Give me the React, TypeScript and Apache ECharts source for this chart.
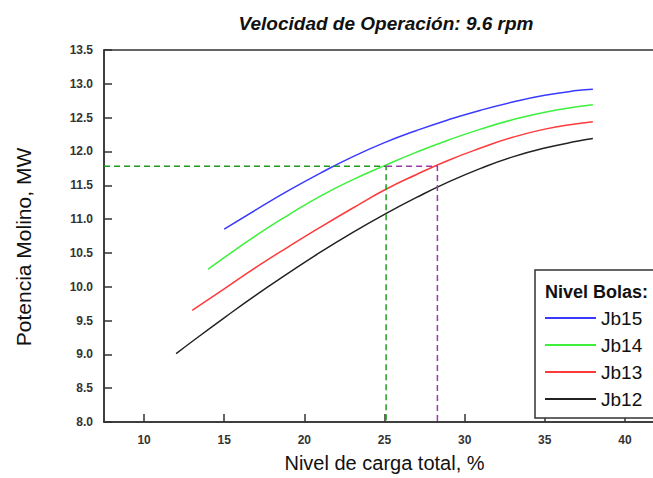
import React, { useEffect, useRef } from "react";
import * as echarts from "echarts";

const titleText = "Velocidad de Operación: 9.6 rpm";
const xName = "Nivel de carga total, %";
const yName = "Potencia Molino, MW";
const legendTitle = "Nivel Bolas:";
const xTicks = [10, 15, 20, 25, 30, 35, 40];

const seriesNames = ["Jb15", "Jb14", "Jb13", "Jb12"];
const seriesColors = ["#3a3aff", "#3cf03c", "#ff3a3a", "#222222"];

const xJb15 = [15, 17, 19, 21, 23, 25, 27, 29, 31, 33, 35, 37, 38];
const yJb15 = [10.85, 11.14, 11.42, 11.68, 11.92, 12.13, 12.31, 12.47, 12.61, 12.73, 12.83, 12.9, 12.92];
const xJb14 = [14, 15, 17, 19, 21, 23, 25, 27, 29, 31, 33, 35, 37, 38];
const yJb14 = [10.26, 10.43, 10.76, 11.06, 11.34, 11.58, 11.79, 11.99, 12.17, 12.33, 12.47, 12.58, 12.66, 12.69];
const xJb13 = [13, 15, 17, 19, 21, 23, 25, 27, 29, 31, 33, 35, 37, 38];
const yJb13 = [9.65, 9.97, 10.29, 10.59, 10.88, 11.16, 11.43, 11.66, 11.87, 12.05, 12.21, 12.33, 12.41, 12.44];
const xJb12 = [12, 13, 15, 17, 19, 21, 23, 25, 27, 29, 31, 33, 35, 37, 38];
const yJb12 = [9.01, 9.19, 9.54, 9.88, 10.2, 10.51, 10.8, 11.07, 11.32, 11.55, 11.75, 11.92, 12.05, 12.15, 12.19];

// reference guides
const refPower = 11.78;
const refLoadGreen = 25.1;
const refLoadPurple = 28.3;
const xMin = 7.5;
const xMax = 42.5;
const yMin = 8;
const yMax = 13.5;

const zip = (xs: number[], ys: number[]) => xs.map((x, i) => [x, ys[i]]);

export default function App() {
  const ref = useRef<HTMLDivElement>(null);
  useEffect(() => {
    if (!ref.current) return;
    const chart = echarts.init(ref.current, null, { renderer: "svg" });
    const font = "'Liberation Sans', Arial, sans-serif";
    const curves = [
      zip(xJb15, yJb15),
      zip(xJb14, yJb14),
      zip(xJb13, yJb13),
      zip(xJb12, yJb12),
    ];
    chart.setOption({
      animation: false,
      backgroundColor: "#ffffff",
      title: {
        text: titleText,
        left: 381,
        textAlign: "center",
        top: 9,
        textStyle: {
          fontFamily: font,
          fontSize: 19,
          fontWeight: "bold",
          fontStyle: "italic",
          color: "#111",
        },
      },
      grid: {
        left: 104,
        top: 50,
        width: 561,
        height: 372,
        outerBoundsMode: "none",
        containLabel: false,
        show: true,
        borderColor: "#333",
        borderWidth: 1.5,
        backgroundColor: "transparent",
      },
      legend: {
        data: seriesNames,
        orient: "vertical",
        left: 545,
        top: 308,
        padding: 0,
        itemWidth: 51,
        itemHeight: 2,
        itemGap: 7,
        icon: "rect",
        z: 10,
        textStyle: { fontFamily: font, fontSize: 19, color: "#111", lineHeight: 20 },
      },
      graphic: [
        {
          type: "rect",
          z: 5,
          shape: { x: 535, y: 270, width: 140, height: 148 },
          style: { fill: "#fff", stroke: "#333", lineWidth: 1.5 },
        },
        {
          type: "text",
          z: 6,
          x: 545,
          y: 292,
          style: {
            text: legendTitle,
            fontFamily: font,
            fontSize: 18,
            fontWeight: "bold",
            fill: "#111",
            textVerticalAlign: "middle",
          },
        },
      ],
      xAxis: {
        type: "value",
        min: xMin,
        max: xMax,
        name: xName,
        nameLocation: "middle",
        nameGap: 31,
        nameTextStyle: { fontFamily: font, fontSize: 20, color: "#111", lineHeight: 20 },
        axisLine: { show: true, lineStyle: { color: "#333", width: 1.5 } },
        axisTick: { show: true, inside: true, length: 8, customValues: xTicks, lineStyle: { color: "#333", width: 1.5 } },
        axisLabel: {
          customValues: xTicks,
          margin: 12,
          fontFamily: font,
          fontSize: 12,
          fontWeight: "bold",
          color: "#333",
        },
        splitLine: { show: false },
      },
      yAxis: {
        type: "value",
        min: yMin,
        max: yMax,
        interval: 0.5,
        name: yName,
        nameLocation: "middle",
        nameGap: 70,
        nameTextStyle: { fontFamily: font, fontSize: 21, color: "#111", padding: [0, 22, 0, 0] },
        axisLine: { show: true, lineStyle: { color: "#333", width: 1.5 } },
        axisTick: { show: true, inside: true, length: 8, lineStyle: { color: "#333", width: 1.5 } },
        axisLabel: {
          margin: 11,
          fontFamily: font,
          fontSize: 12,
          fontWeight: "bold",
          color: "#333",
          formatter: (v: number) => v.toFixed(1),
        },
        splitLine: { show: false },
      },
      series: [
        ...seriesNames.map((name, i) => ({
          name,
          type: "line",
          data: curves[i],
          smooth: true,
          showSymbol: false,
          symbol: "none",
          color: seriesColors[i],
          lineStyle: { color: seriesColors[i], width: 1.5 },
        })),
        {
          name: "guideGreen",
          type: "line",
          data: [
            [xMin, refPower],
            [refLoadGreen, refPower],
            [refLoadGreen, yMin],
          ],
          showSymbol: false,
          symbol: "none",
          lineStyle: { color: "#1f9a1f", width: 1.5, type: [6, 4] },
          z: 3,
        },
        {
          name: "guidePurple",
          type: "line",
          data: [
            [refLoadGreen, refPower],
            [refLoadPurple, refPower],
            [refLoadPurple, yMin],
          ],
          showSymbol: false,
          symbol: "none",
          lineStyle: { color: "#9a3aa8", width: 1.5, type: [6, 4] },
          z: 3,
        },
      ],
    });
    return () => chart.dispose();
  }, []);
  return (
    <div
      ref={ref}
      style={{ position: "fixed", left: 0, top: 0, width: 653, height: 478, background: "#fff" }}
    />
  );
}
